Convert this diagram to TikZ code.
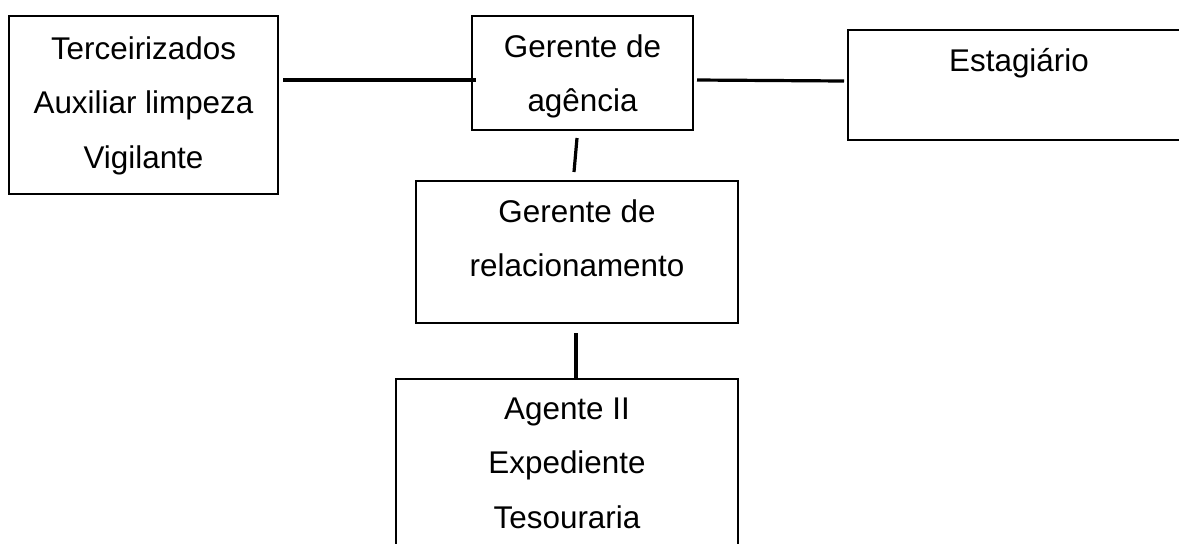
\documentclass[tikz,border=0pt]{standalone}
\usepackage{fontspec}
\setmainfont{Liberation Sans}
\usepackage{tikz}

\newcommand{\rotulo}[4]{\parbox[c][#2][t]{#1}{\centering\fontsize{15.7}{27.4}\selectfont\rule{0pt}{#3}#4}}

\begin{document}
\begin{tikzpicture}[x=0.5pt,y=-0.5pt,
		cargo/.style={draw,line width=1pt,inner sep=0pt,outer sep=0pt},
		ligacao/.style={line width=1.6pt}]
			\useasboundingbox (0,0) rectangle (1179,543);
			\node[cargo] (terc) at (143.5,105) {\rotulo{134.5pt}{89pt}{21.5pt}{Terceirizados\\Auxiliar limpeza\\Vigilante}};
			\node[cargo] (ger) at (582.5,73) {\rotulo{110.5pt}{57pt}{20.5pt}{Gerente de\\agência}};
			\node[cargo] (est) at (1019,85) {\rotulo{171pt}{55pt}{20.5pt}{Estagiário}};
			\node[cargo] (rel) at (577,252) {\rotulo{161pt}{71pt}{20.5pt}{Gerente de\\relacionamento}};
			\node[cargo] (ag) at (567,469.5) {\rotulo{171pt}{90.5pt}{20pt}{Agente II\\Expediente\\Tesouraria}};
			\draw[ligacao] ([xshift=2.5pt,yshift=12.5pt]terc.east) -- ([xshift=2pt,yshift=-3.5pt]ger.west);
			\draw[ligacao] ([xshift=2pt,yshift=-3.5pt]ger.east) -- ([xshift=-2pt,yshift=2pt]est.west);
			\draw[ligacao] ([xshift=-2.75pt,yshift=-4pt]ger.south) -- ([xshift=-1.5pt,yshift=4.5pt]rel.north);
			\draw[ligacao] ([xshift=-0.5pt,yshift=-5pt]rel.south) -- ([xshift=4.5pt]ag.north);
		\end{tikzpicture}
\end{document}
